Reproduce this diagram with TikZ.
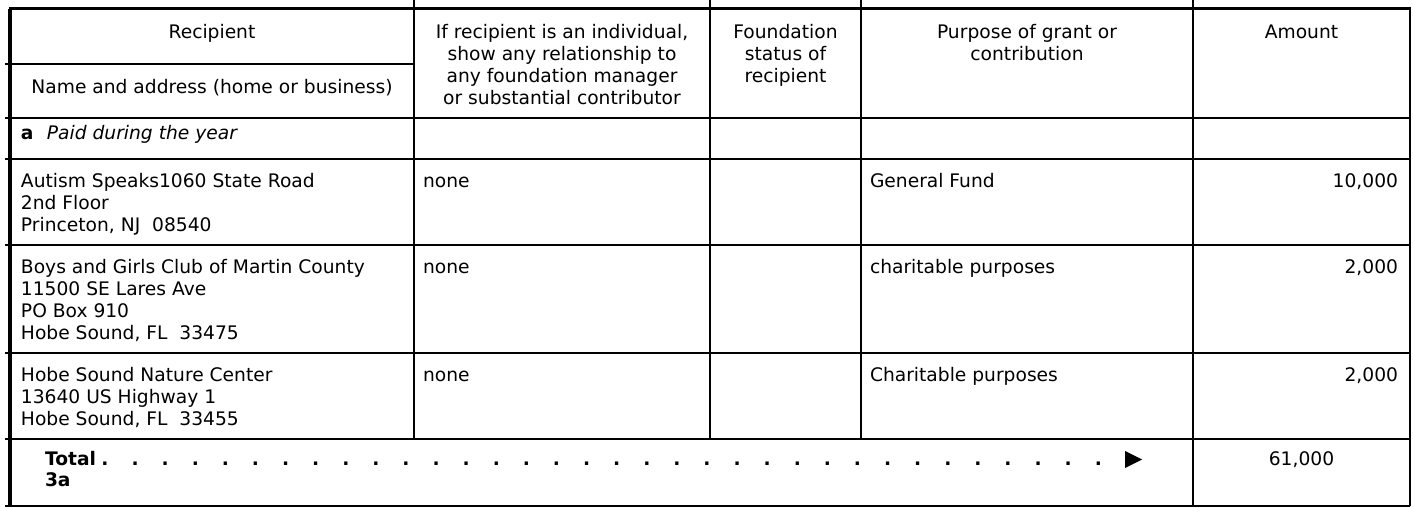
\documentclass[tikz,border=0pt]{standalone}
\usepackage{fontspec}
\setmainfont{DejaVu Sans}
\newcommand\cellL[1]{\begin{tabular}[t]{@{}l@{}}#1\end{tabular}}
\newcommand\cellC[1]{\begin{tabular}[t]{@{}c@{}}#1\end{tabular}}
\begin{document}
\begin{tikzpicture}[x=0.75pt,y=-0.75pt,
  txt/.style={inner sep=0pt, outer sep=0pt, font=\fontsize{14}{16.5}\selectfont},
  lt/.style={txt, anchor=base west},
  ct/.style={txt, anchor=base},
  rt/.style={txt, anchor=base east},
  rule/.style={line width=1.5pt},
  border/.style={line width=2.3pt},
  dotmark/.style={txt, anchor=base, font=\fontsize{14}{16.5}\selectfont\bfseries}]
\useasboundingbox (0,0) rectangle (1413,507);
% vertical rules
\draw[rule] (413.5,0) -- (413.5,439);
\draw[rule] (710,0) -- (710,439);
\draw[rule] (861,0) -- (861,439);
\draw[rule] (1193,0) -- (1193,506);
\draw[rule] (1410,8.5) -- (1410,506);
% horizontal rules
\draw[rule] (5,64) -- (413.5,64);
\draw[rule] (5,118) -- (1410,118);
\draw[rule] (5,159) -- (1410,159);
\draw[rule] (5,245) -- (1410,245);
\draw[rule] (5,353) -- (1410,353);
\draw[rule] (5,439) -- (1410,439);
\draw[rule] (5,506) -- (1410,506);
% borders
\draw[border] (10,8.5) -- (10,506);
\draw[border] (8.85,8.5) -- (1411,8.5);
% header
\node[ct] (hrec) at (212,38) {Recipient};
\node[ct] (hname) at (212,93) {Name and address (home or business)};
\node[ct] (hrel) at (562,38) {\cellC{If recipient is an individual,\\ show any relationship to\\ any foundation manager\\ or substantial contributor}};
\node[ct] (hstat) at (785.5,38) {\cellC{Foundation\\ status of\\ recipient}};
\node[ct] (hpur) at (1027,38) {\cellC{Purpose of grant or\\ contribution}};
\node[ct] (hamt) at (1301.5,38) {Amount};
% section a
\node[lt] (paid) at (21,139) {\textbf{a}\hspace{10pt}\textit{Paid during the year}};
% rows
\node[lt] (r1name) at (21,187) {\cellL{Autism Speaks1060 State Road\\ 2nd Floor\\ Princeton, NJ\ \ 08540}};
\node[lt] (r1rel) at (423,187) {none};
\node[lt] (r1pur) at (870,187) {General Fund};
\node[rt] (r1amt) at (1398,187) {10,000};
\node[lt] (r2name) at (21,273) {\cellL{Boys and Girls Club of Martin County\\ 11500 SE Lares Ave\\ PO Box 910\\ Hobe Sound, FL\ \ 33475}};
\node[lt] (r2rel) at (423,273) {none};
\node[lt] (r2pur) at (870,273) {charitable purposes};
\node[rt] (r2amt) at (1398,273) {2,000};
\node[lt] (r3name) at (21,381) {\cellL{Hobe Sound Nature Center\\ 13640 US Highway 1\\ Hobe Sound, FL\ \ 33455}};
\node[lt] (r3rel) at (423,381) {none};
\node[lt] (r3pur) at (870,381) {Charitable purposes};
\node[rt] (r3amt) at (1398,381) {2,000};
% total
\node[lt, font=\fontsize{14}{16.5}\selectfont\bfseries] (total) at (45,465) {Total};
\node[lt, font=\fontsize{14}{16.5}\selectfont\bfseries] (three) at (45,486) {3a};
\foreach \i in {0,...,33} {
  \node[dotmark] (dot\i) at ({105+30.1*\i},465) {.};
}
\fill (1125,451) -- (1142,459.5) -- (1125,468) -- cycle;
\node[ct] (tamt) at (1301.5,465) {61,000};
\end{tikzpicture}
\end{document}
